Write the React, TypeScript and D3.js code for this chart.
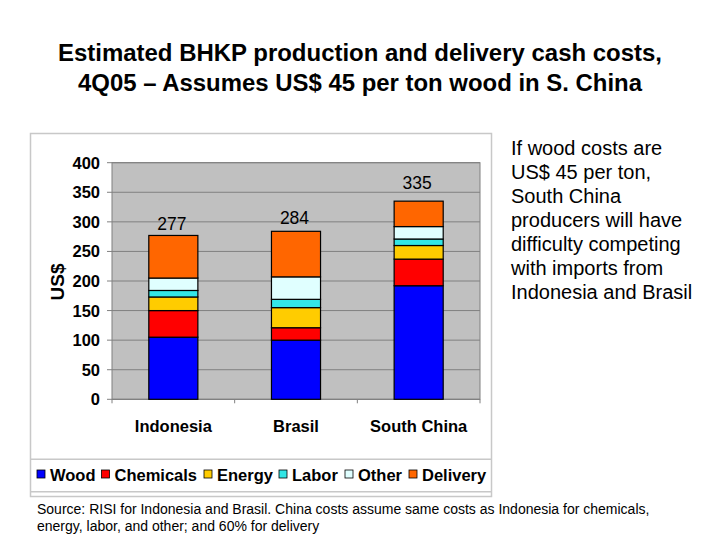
import React from "react";
import * as d3 from "d3";

const categories = ["Indonesia", "Brasil", "South China"];
const seriesNames = ["Wood", "Chemicals", "Energy", "Labor", "Other", "Delivery"];
const wood = [105, 100, 192];
const chemicals = [45, 21, 45];
const energy = [23, 34, 23];
const labor = [11, 14, 11];
const other = [21, 38, 21];
const delivery = [72, 77, 43];
const totals = [277, 284, 335];
const labelLift = [5, 7, 12];
const yTicks = [0, 50, 100, 150, 200, 250, 300, 350, 400];
const colors = ["#0000FF", "#FF0000", "#FFCC00", "#33E6E6", "#E0FFFF", "#FF6600"];
const titleLines = [
  "Estimated BHKP production and delivery cash costs,",
  "4Q05 \u2013 Assumes US$ 45 per ton wood in S. China",
];
const titleWidths = [604, 564];
const noteLines = [
  "If wood costs are",
  "US$ 45 per ton,",
  "South China",
  "producers will have",
  "difficulty competing",
  "with imports from",
  "Indonesia and Brasil",
];
const sourceLines = [
  "Source: RISI for Indonesia and Brasil. China costs assume same costs as Indonesia for chemicals,",
  "energy, labor, and other; and 60% for delivery",
];

export default function App() {
  const series = [wood, chemicals, energy, labor, other, delivery];
  const rows = categories.map((c, i) => {
    const r: any = { cat: c };
    seriesNames.forEach((s, j) => (r[s] = series[j][i]));
    return r;
  });
  const stacked = d3.stack().keys(seriesNames)(rows);

  const x0 = 112, x1 = 480, yTop = 162.7, yBot = 399.3;
  const x = d3.scaleBand().domain(categories).range([x0, x1]).paddingInner(0.6).paddingOuter(0.3);
  const xb = d3.scaleBand().domain(categories).range([x0, x1]);
  const y = d3.scaleLinear().domain([0, 400]).range([yBot, yTop]);
  const font = "Arial, 'Liberation Sans', Helvetica, sans-serif";

  const legendX = [37, 101.5, 204, 279, 345, 409];

  return (
    <svg width={720} height={540} style={{ position: "absolute", left: 0, top: 0, background: "#fff" }} fontFamily={font}>
      {titleLines.map((t, i) => (
        <text key={i} x={360} y={61 + i * 30} textAnchor="middle" fontSize={23.5} fontWeight="bold" fill="#000"
          textLength={titleWidths[i]} lengthAdjust="spacingAndGlyphs">{t}</text>
      ))}
      {/* frame */}
      <rect x={30.5} y={133.5} width={461} height={363} fill="#fff" stroke="#c8c8c8" strokeWidth={1.5} />
      <line x1={30.5} x2={491.5} y1={459.3} y2={459.3} stroke="#c8c8c8" strokeWidth={1.5} />
      <line x1={30.5} x2={491.5} y1={491.7} y2={491.7} stroke="#c8c8c8" strokeWidth={1.5} />
      {/* plot area */}
      <rect x={x0} y={yTop} width={x1 - x0} height={yBot - yTop} fill="#C0C0C0" stroke="#808080" strokeWidth={1} />
      {yTicks.map((t) => (
        <g key={t}>
          {t > 0 && <line x1={x0} x2={x1} y1={y(t)} y2={y(t)} stroke="#808080" strokeWidth={1} />}
          <line x1={107} x2={x0} y1={y(t)} y2={y(t)} stroke="#808080" strokeWidth={1} />
          <text x={100} y={y(t) + 6} textAnchor="end" fontSize={16.5} fontWeight="bold" fill="#000">{t}</text>
        </g>
      ))}
      <line x1={x0} x2={x1} y1={yBot} y2={yBot} stroke="#808080" strokeWidth={1.2} />
      {categories.map((c) => (
        <line key={c} x1={xb(c)!} x2={xb(c)!} y1={yBot} y2={yBot + 4} stroke="#808080" />
      ))}
      <line x1={x1} x2={x1} y1={yBot} y2={yBot + 4} stroke="#808080" />
      {stacked.map((s, j) => (
        <g key={s.key}>
          {s.map((d, i) => (
            <rect key={i} x={x(categories[i])!} width={x.bandwidth()} y={y(d[1])} height={y(d[0]) - y(d[1])}
              fill={colors[j]} stroke="#000" strokeWidth={1.2} />
          ))}
        </g>
      ))}
      {categories.map((c, i) => (
        <text key={c} x={x(c)! + x.bandwidth() / 2 - 1.5} y={y(totals[i]) - labelLift[i]} textAnchor="middle" fontSize={17.5} fill="#000">{totals[i]}</text>
      ))}
      {categories.map((c) => (
        <text key={c} x={x(c)! + x.bandwidth() / 2} y={432} textAnchor="middle" fontSize={16.5} fontWeight="bold" fill="#000">{c}</text>
      ))}
      <text transform={`translate(64,282) rotate(-90)`} textAnchor="middle" fontSize={19} fontWeight="bold" fill="#000">US$</text>
      {seriesNames.map((s, j) => (
        <g key={s}>
          <rect x={legendX[j]} y={470} width={8} height={8} fill={colors[j]} stroke="#000" strokeWidth={0.8} />
          <text x={legendX[j] + 13} y={480.5} fontSize={16.5} fontWeight="bold" fill="#000">{s}</text>
        </g>
      ))}
      {noteLines.map((t, i) => (
        <text key={i} x={511} y={155 + i * 24} fontSize={20} fill="#000">{t}</text>
      ))}
      {sourceLines.map((t, i) => (
        <text key={i} x={37} y={514 + i * 17} fontSize={14} fill="#000">{t}</text>
      ))}
    </svg>
  );
}
